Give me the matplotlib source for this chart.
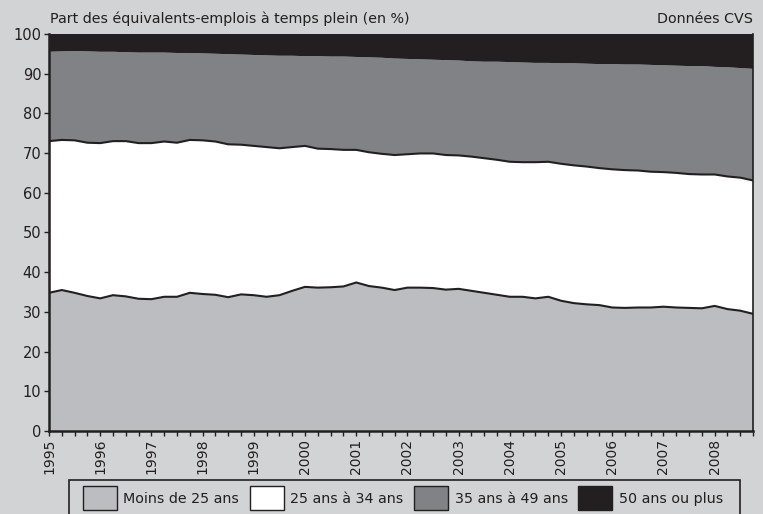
import numpy as np
import matplotlib.pyplot as plt
from matplotlib.patches import Patch, Rectangle

# trimestres 1995T1 -> 2008T4
annees = np.arange(1995, 2009)
trimestres = np.arange(56) / 4 + 1995

moins_25 = [34.8, 35.5, 34.8, 34.0, 33.4, 34.2, 33.9, 33.3, 33.2, 33.8,
            33.8, 34.8, 34.5, 34.3, 33.7, 34.4, 34.2, 33.8, 34.2, 35.3,
            36.3, 36.1, 36.2, 36.4, 37.4, 36.5, 36.1, 35.5, 36.1, 36.1,
            36.0, 35.6, 35.8, 35.3, 34.8, 34.3, 33.8, 33.8, 33.4, 33.8,
            32.8, 32.2, 31.9, 31.7, 31.1, 31.0, 31.1, 31.1, 31.3, 31.1,
            31.0, 30.9, 31.5, 30.7, 30.3, 29.5]
de_25_34 = [38.2, 37.8, 38.4, 38.6, 39.1, 38.8, 39.1, 39.2, 39.3, 39.1,
            38.8, 38.5, 38.7, 38.6, 38.5, 37.7, 37.6, 37.7, 37.0, 36.2,
            35.5, 35.0, 34.8, 34.4, 33.4, 33.7, 33.7, 34.0, 33.6, 33.8,
            33.9, 33.9, 33.6, 33.8, 33.9, 34.0, 34.0, 33.9, 34.3, 34.0,
            34.5, 34.7, 34.7, 34.5, 34.8, 34.7, 34.5, 34.2, 33.9, 33.9,
            33.7, 33.7, 33.1, 33.4, 33.5, 33.6]
de_35_49 = [22.5, 22.3, 22.5, 23.0, 23.0, 22.5, 22.4, 22.8, 22.8, 22.4,
            22.6, 21.9, 21.9, 22.1, 22.7, 22.7, 22.9, 23.1, 23.3, 23.0,
            22.6, 23.3, 23.3, 23.5, 23.4, 23.9, 24.2, 24.3, 24.0, 23.7,
            23.6, 23.9, 23.9, 24.0, 24.3, 24.7, 25.1, 25.1, 25.0, 24.9,
            25.3, 25.7, 25.9, 26.2, 26.5, 26.6, 26.7, 26.9, 26.9, 27.0,
            27.2, 27.3, 27.1, 27.5, 27.6, 28.1]
plus_50 = [4.5, 4.4, 4.3, 4.4, 4.5, 4.5, 4.6, 4.7, 4.7, 4.7,
           4.8, 4.8, 4.9, 5.0, 5.1, 5.2, 5.3, 5.4, 5.5, 5.5,
           5.6, 5.6, 5.7, 5.7, 5.8, 5.9, 6.0, 6.2, 6.3, 6.4,
           6.5, 6.6, 6.7, 6.9, 7.0, 7.0, 7.1, 7.2, 7.3, 7.3,
           7.4, 7.4, 7.5, 7.6, 7.6, 7.7, 7.7, 7.8, 7.9, 8.0,
           8.1, 8.1, 8.3, 8.4, 8.6, 8.8]

libelles = ["Moins de 25 ans", "25 ans à 34 ans", "35 ans à 49 ans", "50 ans ou plus"]
couleurs = ["#bcbdc0", "#ffffff", "#808285", "#231f20"]
fond = "#d1d3d4"
noir = "#231f20"

plt.rcParams['font.family'] = ['DejaVu Sans']

fig = plt.figure(figsize=(7.63, 5.14), dpi=100, facecolor=fond)
ax = fig.add_axes([0.0642, 0.1615, 0.9228, 0.7725])

series = [moins_25, de_25_34, de_35_49, plus_50]
ax.stackplot(trimestres, series, colors=couleurs, linewidth=0)

cumul = np.cumsum(np.array(series), axis=0)
ax.plot(trimestres, cumul[0], color=noir, linewidth=1.5)
ax.plot(trimestres, cumul[1], color=noir, linewidth=1.5)

ax.set_xlim(1995, 2008.75)
ax.set_ylim(0, 100)
ax.set_yticks(np.arange(0, 101, 10))
ax.set_xticks(annees)
ax.set_xticklabels([str(a) for a in annees], rotation=90)
ax.set_xticks(trimestres, minor=True)
ax.tick_params(axis='both', which='both', direction='out', length=3.5,
               width=1, color=noir, labelcolor=noir, pad=2)
ax.tick_params(axis='y', labelsize=10.5)
ax.tick_params(axis='x', labelsize=10)

for s in ['left', 'bottom']:
    ax.spines[s].set_linewidth(1.8)
    ax.spines[s].set_color(noir)
ax.spines['right'].set_linewidth(1.2)
ax.spines['right'].set_color(noir)
ax.spines['top'].set_visible(False)

fig.text(0.066, 0.955, "Part des équivalents-emplois à temps plein (en %)",
         fontsize=10.3, color=noir, ha='left', va='baseline')
fig.text(0.987, 0.955, "Données CVS", fontsize=10.3, color=noir,
         ha='right', va='baseline')

# cadre de la légende, qui sort par le bas de l'image
fig.patches.append(Rectangle((69 / 763, -0.05), (740 - 69) / 763, 0.05 + 34 / 514,
                             transform=fig.transFigure, facecolor=fond,
                             edgecolor=noir, linewidth=1.2, zorder=0))

poignees = [Patch(facecolor=c, edgecolor=noir, linewidth=1) for c in couleurs]
leg = fig.legend(poignees, libelles, ncol=4, loc='upper center',
                 bbox_to_anchor=(0.528, 0.068), frameon=False, fontsize=10.3,
                 handlelength=2.4, handleheight=2.2, columnspacing=0.72,
                 handletextpad=0.45, borderpad=0.0)
for t in leg.get_texts():
    t.set_color(noir)

fig.savefig("out.png", dpi=100, facecolor=fond)
